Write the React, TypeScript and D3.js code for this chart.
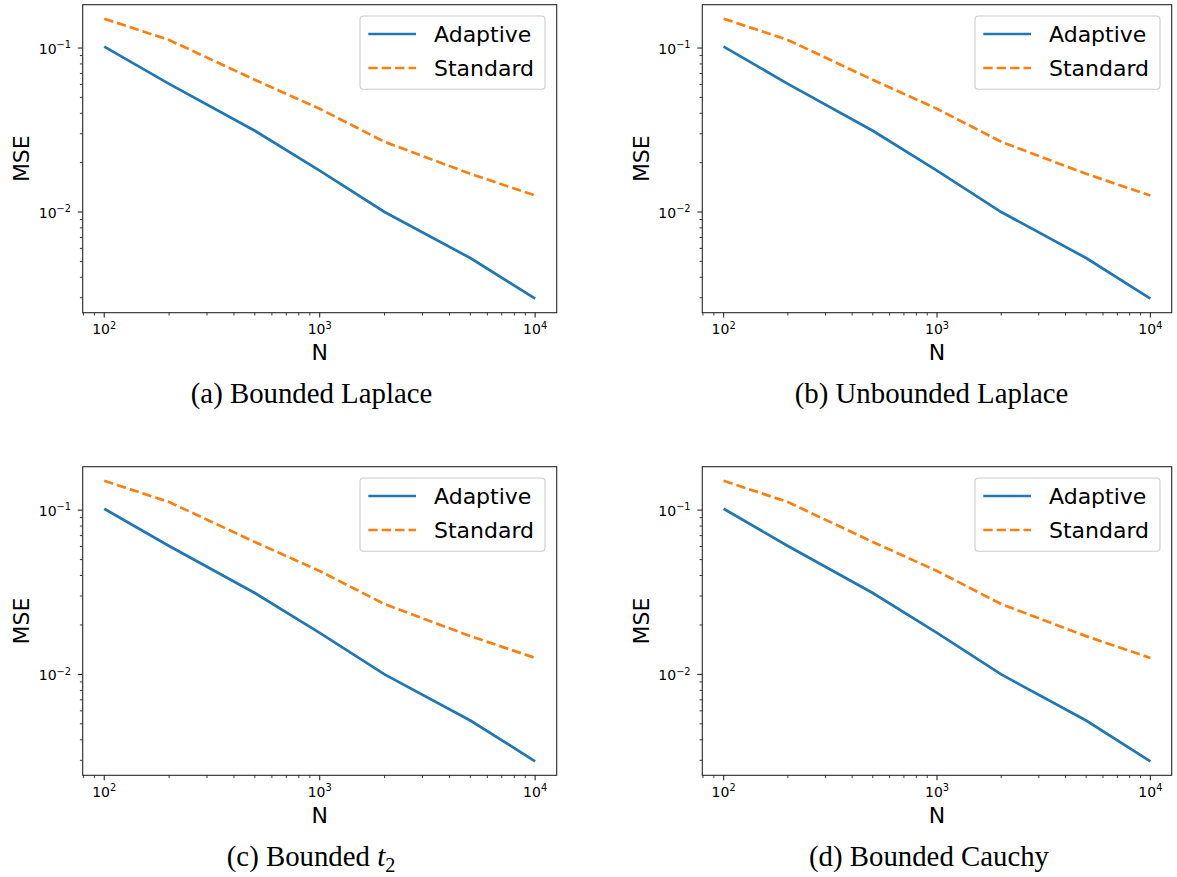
import React from "react";
import * as d3 from "d3";

const nValues = [100, 200, 500, 1000, 2000, 5000, 10000];
const adaptiveMSE = [0.102, 0.0605, 0.0313, 0.0179, 0.01, 0.00524, 0.00296];
const standardMSE = [0.151, 0.112, 0.064, 0.0426, 0.0268, 0.0171, 0.0126];
const seriesNames = ["Adaptive", "Standard"];
const seriesColors = ["#1f77b4", "#ff7f0e"];
const xMajorTicks = [100, 1000, 10000];
const yMajorTicks = [0.01, 0.1];
const captions = ["(a) Bounded Laplace", "(b) Unbounded Laplace", "(c) Bounded ", "(d) Bounded Cauchy"];

const FONT = "DejaVu Sans";
const SERIF = "'Liberation Serif', 'Times New Roman', serif";

type Panel = {
  left: number;
  right: number;
  top: number;
  bottom: number;
  caption: string;
  capX: number;
  capY: number;
  t2?: boolean;
};

const panels: Panel[] = [
  { left: 82.7, right: 556.7, top: 4.7, bottom: 312.7, caption: captions[0], capX: 311.5, capY: 403.3 },
  { left: 702.3, right: 1171.7, top: 4.7, bottom: 312.7, caption: captions[1], capX: 931.5, capY: 403.3 },
  { left: 82.7, right: 556.7, top: 466.7, bottom: 775.3, caption: captions[2], capX: 311, capY: 866, t2: true },
  { left: 702.3, right: 1171.7, top: 466.7, bottom: 775.3, caption: captions[3], capX: 929, capY: 866 },
];

function logDomain(vals: number[]): [number, number] {
  const lo = Math.log10(d3.min(vals)!);
  const hi = Math.log10(d3.max(vals)!);
  const m = (hi - lo) * 0.05;
  return [Math.pow(10, lo - m), Math.pow(10, hi + m)];
}

function minorTicks(domain: [number, number]): number[] {
  const out: number[] = [];
  const k0 = Math.floor(Math.log10(domain[0]));
  const k1 = Math.ceil(Math.log10(domain[1]));
  for (let k = k0; k <= k1; k++) {
    for (let m = 2; m <= 9; m++) {
      const v = m * Math.pow(10, k);
      if (v >= domain[0] && v <= domain[1]) out.push(v);
    }
  }
  return out;
}

function expLabel(v: number) {
  const e = Math.round(Math.log10(v));
  return e < 0 ? "\u2212" + Math.abs(e) : String(e);
}

function PanelChart({ p }: { p: Panel }) {
  const xDom = logDomain(nValues);
  const yDom = logDomain([...adaptiveMSE, ...standardMSE]);
  const x = d3.scaleLog().domain(xDom).range([p.left, p.right]);
  const y = d3.scaleLog().domain(yDom).range([p.bottom, p.top]);
  const series = [adaptiveMSE, standardMSE];
  const line = d3
    .line<number>()
    .x((_, i) => x(nValues[i]))
    .y((d) => y(d));
  const cx = (p.left + p.right) / 2;
  const cy = (p.top + p.bottom) / 2;
  const lgRight = p.right - 11.7;
  const lgLeft = lgRight - 185;
  const lgTop = p.top + 11.3;
  const axisColor = "#262626";
  const dash = "9.4 4";
  const lw = 2.7;
  return (
    <g>
      {series.map((s, i) => (
        <path
          key={i}
          d={line(s) || ""}
          fill="none"
          stroke={seriesColors[i]}
          strokeWidth={lw}
          strokeDasharray={i === 1 ? dash : undefined}
        />
      ))}
      <rect x={p.left} y={p.top} width={p.right - p.left} height={p.bottom - p.top} fill="none" stroke={axisColor} strokeWidth={1.1} />
      {xMajorTicks.map((t) => (
        <g key={"xt" + t}>
          <line x1={x(t)} x2={x(t)} y1={p.bottom} y2={p.bottom + 4.9} stroke={axisColor} strokeWidth={1.1} />
          <text x={x(t)} y={p.bottom + 21.3} textAnchor="middle" fontFamily={FONT} fontSize={14} fill="#000">
            <tspan>10</tspan>
            <tspan dy="-0.55em" fontSize="0.7em">{expLabel(t)}</tspan>
          </text>
        </g>
      ))}
      {minorTicks(xDom).map((t) => (
        <line key={"xm" + t} x1={x(t)} x2={x(t)} y1={p.bottom} y2={p.bottom + 2.8} stroke={axisColor} strokeWidth={0.9} />
      ))}
      {yMajorTicks.map((t) => (
        <g key={"yt" + t}>
          <line x1={p.left - 4.9} x2={p.left} y1={y(t)} y2={y(t)} stroke={axisColor} strokeWidth={1.1} />
          <text x={p.left - 11.7} y={y(t) + 5.5} textAnchor="end" fontFamily={FONT} fontSize={14} fill="#000">
            <tspan>10</tspan>
            <tspan dy="-0.55em" fontSize="0.7em">{expLabel(t)}</tspan>
          </text>
        </g>
      ))}
      {minorTicks(yDom).map((t) => (
        <line key={"ym" + t} x1={p.left - 2.8} x2={p.left} y1={y(t)} y2={y(t)} stroke={axisColor} strokeWidth={0.9} />
      ))}
      <text x={cx} y={p.bottom + 47.3} textAnchor="middle" fontFamily={FONT} fontSize={22} fill="#000">N</text>
      <text
        transform={`translate(${p.left - 53.4},${cy}) rotate(-90)`}
        textAnchor="middle"
        fontFamily={FONT}
        fontSize={22}
        fill="#000"
      >
        MSE
      </text>
      <rect x={lgLeft} y={lgTop} width={185} height={73.3} rx={3.5} fill="#fff" fillOpacity={0.8} stroke="#cccccc" strokeWidth={1.1} />
      {seriesNames.map((name, i) => {
        const ry = lgTop + 18 + i * 34;
        return (
          <g key={name}>
            <line
              x1={lgLeft + 8.3}
              x2={lgLeft + 56}
              y1={ry}
              y2={ry}
              stroke={seriesColors[i]}
              strokeWidth={lw}
              strokeDasharray={i === 1 ? dash : undefined}
            />
            <text x={lgLeft + 74} y={ry + 8.2} fontFamily={FONT} fontSize={22} fill="#000">
              {name}
            </text>
          </g>
        );
      })}
      <text x={p.capX} y={p.capY} textAnchor="middle" fontFamily={SERIF} fontSize={28.8} fill="#000">
        {p.caption}
        {p.t2 ? (
          <>
            <tspan fontStyle="italic">t</tspan>
            <tspan fontSize="0.7em" dy="0.3em">2</tspan>
          </>
        ) : null}
      </text>
    </g>
  );
}

export default function App() {
  return (
    <svg width={1177} height={877} style={{ position: "absolute", left: 0, top: 0, background: "#fff" }}>
      <rect x={0} y={0} width={1177} height={877} fill="#fff" />
      {panels.map((p, i) => (
        <PanelChart key={i} p={p} />
      ))}
    </svg>
  );
}
